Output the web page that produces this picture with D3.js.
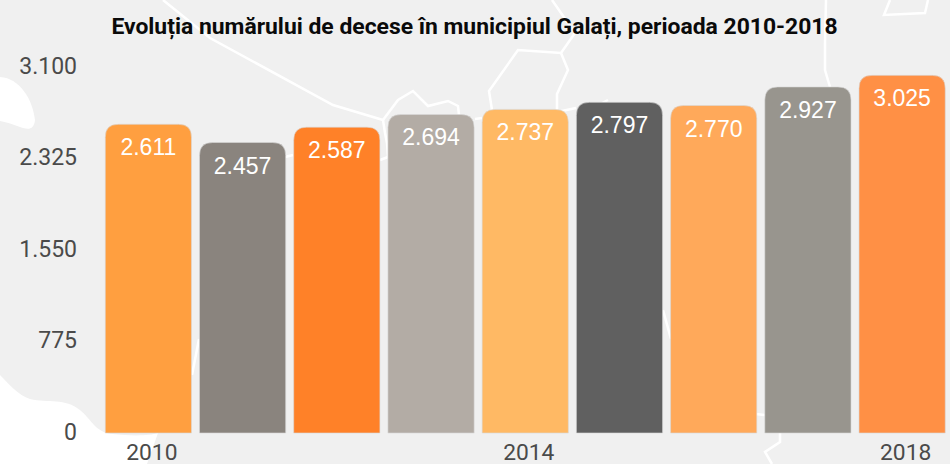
<!DOCTYPE html>
<html><head><meta charset="utf-8">
<style>html,body{margin:0;padding:0;background:#f0f0f0;overflow:hidden}svg{display:block}text{font-family:Roboto,sans-serif}</style>
<script src="https://cdn.jsdelivr.net/npm/d3@7"></script></head>
<body><svg id="c" width="950" height="464"></svg>
<script>
const years=["2010","2011","2012","2013","2014","2015","2016","2017","2018"];
const values=[2611,2457,2587,2694,2737,2797,2770,2927,3025];
const barColors=["#ff9f40","#8a847e","#ff8128","#b3aca5","#ffb964","#606060","#ffa95a","#98958e","#ff9045"];
const yTicks=[0,775,1550,2325,3100];
const xTickLabels=["2010","2014","2018"];
const titleText="Evoluția numărului de decese în municipiul Galați, perioada 2010-2018";
const fmt=v=>{const s=String(v);return s.length>3?s.slice(0,-3)+"."+s.slice(-3):s;};
const svg=d3.select("#c");
const line=d3.line().curve(d3.curveLinear);
const bgFilled=[
 "M0,77 C20,78 33,100 35,120 C34,130 28,130 20,127 C12,124 6,122 0,121 Z",
 "M0,375 C10,385 18,395 30,399 C48,403 65,398 80,410 C92,420 95,432 112,434 C130,436 150,436 158,433 L147,464 L0,464 Z"
];
const bgLines=[
 [[163,0],[210,38],[333,105],[383,120]],
 [[383,120],[385,133],[387,143],[388,157]],
 [[383,120],[398,100],[413,91],[428,106],[448,101],[458,106],[459,115]],
 [[285,157],[293,155]],[[380,160],[388,157]],
 [[475,119],[482,118]],
 [[552,0],[575,33],[561,53],[518,50],[489,91],[492,110]],
 [[561,53],[568,70],[557,94],[557,110]],
 [[557,112],[576,108]],[[602,103],[608,100]],
 [[826,0],[825,43],[825,70],[830,87]],
 [[890,0],[884,15],[925,13],[928,0]],
 [[192,375],[199,339]],
 [[663,310],[671,339]],
 [[756,414],[765,415]],
 [[780,433],[780,442],[765,452],[772,464]]
];
const g0=svg.append("g");
g0.selectAll("path.f").data(bgFilled).join("path").attr("class","f").attr("d",d=>d).attr("fill","#fff");
g0.selectAll("path.l").data(bgLines).join("path").attr("class","l").attr("d",d=>line(d)).attr("fill","none").attr("stroke","#fff").attr("stroke-width",2.5);
const x=d3.scaleBand().domain(years).range([101.5,949]).paddingInner(0.085).paddingOuter(0.04);
const y=d3.scaleLinear().domain([0,3100]).range([433,66.5]);
const r=13;
const barPath=d=>{const x0=x(d.y),x1=x0+x.bandwidth(),t=y(d.v),b=y(0);
 return `M${x0},${b}V${t+r}Q${x0},${t} ${x0+r},${t}H${x1-r}Q${x1},${t} ${x1},${t+r}V${b}Z`;};
const data=years.map((yr,i)=>({y:yr,v:values[i],c:barColors[i]}));
svg.append("g").selectAll("path").data(data).join("path").attr("d",barPath).attr("fill",d=>d.c).attr("stroke","#d8d8d8").attr("stroke-opacity",.6).attr("stroke-width",1);
svg.append("g").selectAll("text").data(data).join("text")
 .attr("x",d=>x(d.y)+x.bandwidth()/2).attr("y",d=>y(d.v)+31).attr("text-anchor","middle")
 .attr("fill","#fff").attr("font-size",23).style("font-family","Liberation Sans, Arial, sans-serif").text(d=>fmt(d.v));
const ya=svg.append("g").call(d3.axisLeft(y).tickValues(yTicks).tickSize(0).tickFormat(fmt));
ya.select(".domain").remove();
ya.selectAll("text").attr("x",77).attr("dy",0).attr("y",6.5).attr("fill","#4a4a4a").attr("font-size",23).style("font-family","Roboto").attr("text-anchor","end");
const xa=svg.append("g").attr("transform","translate(0,433)").call(d3.axisBottom(x).tickValues(xTickLabels).tickSize(0));
xa.select(".domain").remove();
xa.selectAll("text").attr("x",3.5).attr("y",27).attr("dy",0).attr("fill","#4a4a4a").attr("font-size",22.8).style("font-family","Roboto");
svg.append("text").attr("x",474.5).attr("y",34).attr("text-anchor","middle").attr("font-size",22.9).attr("font-weight",700).attr("fill","#0a0a0a").text(titleText);
</script></body></html>
